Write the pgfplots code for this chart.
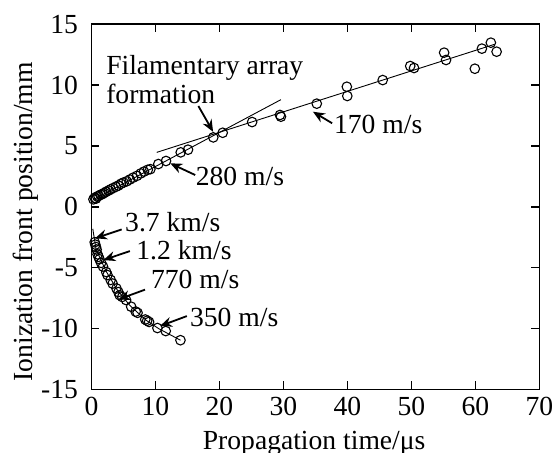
\documentclass[border=0pt]{standalone}
\usepackage{fontspec}
\setmainfont{Liberation Serif}
\usepackage{pgfplots}
\pgfplotsset{compat=1.18}
\usetikzlibrary{arrows.meta}
\begin{document}
\fontsize{13.8}{16}\selectfont
\begin{tikzpicture}
\begin{axis}[
  name=ax, at={(0,0)}, anchor=south west,
  scale only axis, width=224pt, height=182.6pt,
  xmin=0, xmax=70, ymin=-15, ymax=15,
  xtick={0,10,...,70}, ytick={-15,-10,...,15},
  tick align=inside, major tick length=4pt,
  axis line style={line width=0.8pt}, tick style={line width=0.7pt, black},
  /pgf/number format/assume math mode=true,
  ticklabel style={font=\fontsize{13.8}{16}\selectfont},
  yticklabel style={xshift=-2pt},
  xticklabel style={yshift=1pt},
  xlabel={Propagation time/μs}, ylabel={Ionization front position/mm},
  label style={font=\fontsize{13.8}{16}\selectfont},
  xlabel style={at={(axis description cs:0.497,-0.112)}, anchor=north, inner sep=0pt},
  ylabel style={at={(axis description cs:-0.146,0.459)}, anchor=center},
  clip=false,
]
% fitted lines
\addplot[black, line width=0.45pt] coordinates {(0.3,0.6) (29.6,8.81)};
\addplot[black, line width=0.45pt] coordinates {(10.2,4.48) (63,13.36)};
\addplot[black, line width=0.45pt] coordinates {(0.2,-1.8) (0.7,-3.45) (1.5,-4.4) (2.3,-5.3) (4,-6.8) (6,-8.1) (8.5,-9.3) (10.5,-10.0) (13.9,-10.95)};
% upper branch
\addplot[only marks, mark=o, mark size=2.4pt, mark options={line width=0.55pt}, black] coordinates {
(0.3,0.62) (0.5,0.75) (0.7,0.68) (0.9,0.85) (1.1,0.9) (1.4,1.0) (1.7,1.05) (2.0,1.15) (2.3,1.25) (2.7,1.35) (3.0,1.45) (3.4,1.55) (3.8,1.65) (4.2,1.75) (4.6,1.9) (5.0,2.0) (5.5,2.1) (6.0,2.25) (6.5,2.4) (7.1,2.55) (7.7,2.75) (8.2,2.9) (8.8,3.05) (9.2,3.1)
(10.44,3.52) (11.64,3.77) (13.94,4.48) (15.08,4.70) (19.03,5.71) (20.5,6.09) (25.1,6.97) (29.45,7.55) (29.6,7.41) (35.2,8.48) (39.9,9.87) (39.97,9.11) (45.5,10.42) (49.8,11.57) (50.4,11.41) (55.1,12.67) (55.4,12.07) (59.9,11.35) (61.0,13.0) (62.4,13.49) (63.3,12.75)
};
% lower branch
\addplot[only marks, mark=o, mark size=2.4pt, mark options={line width=0.55pt}, black] coordinates {
(0.5,-2.9) (0.6,-3.1) (0.7,-3.3) (0.8,-3.5) (0.95,-3.9) (1.1,-4.1) (1.25,-4.3) (1.5,-4.6) (1.8,-4.9) (2.3,-5.35) (2.5,-5.6) (3.0,-6.0) (3.3,-6.3) (3.9,-6.7) (4.2,-7.0) (4.4,-7.25) (4.8,-7.4) (5.4,-7.65) (6.2,-8.2) (6.9,-8.6) (7.2,-8.7) (8.4,-9.25) (8.7,-9.35) (9.0,-9.45) (10.3,-9.95) (11.6,-10.2) (13.9,-10.95)
};
% annotations
\tikzset{ann/.style={-{Stealth[length=6pt,width=5pt]}, line width=0.9pt}}
\node[align=left, font=\fontsize{13.8}{14.5}\selectfont] at (axis cs:17.7,10.42) {Filamentary array\\formation};
\draw[ann] (axis cs:16.7,8.29) -- (axis cs:19.0,6.17);
\node at (axis cs:23.2,2.53) {280 m/s};
\draw[ann] (axis cs:16.2,2.62) -- (axis cs:12.3,3.58);
\node at (axis cs:44.8,6.8) {170 m/s};
\draw[ann] (axis cs:37.6,6.87) -- (axis cs:34.6,7.82);
\node at (axis cs:12.7,-1.25) {3.7 km/s};
\draw[ann] (axis cs:4.72,-1.85) -- (axis cs:0.55,-2.58);
\node at (axis cs:14.45,-3.53) {1.2 km/s};
\draw[ann] (axis cs:6.0,-3.63) -- (axis cs:1.85,-4.37);
\node at (axis cs:16.2,-5.97) {770 m/s};
\draw[ann] (axis cs:8.36,-6.8) -- (axis cs:4.19,-7.6);
\node at (axis cs:22.3,-9.1) {350 m/s};
\draw[ann] (axis cs:14.9,-8.97) -- (axis cs:10.7,-9.79);
\end{axis}
\pgfresetboundingbox
\path[use as bounding box] (-45.75pt,-31.75pt) rectangle (232.25pt,194.75pt);
\end{tikzpicture}
\end{document}
